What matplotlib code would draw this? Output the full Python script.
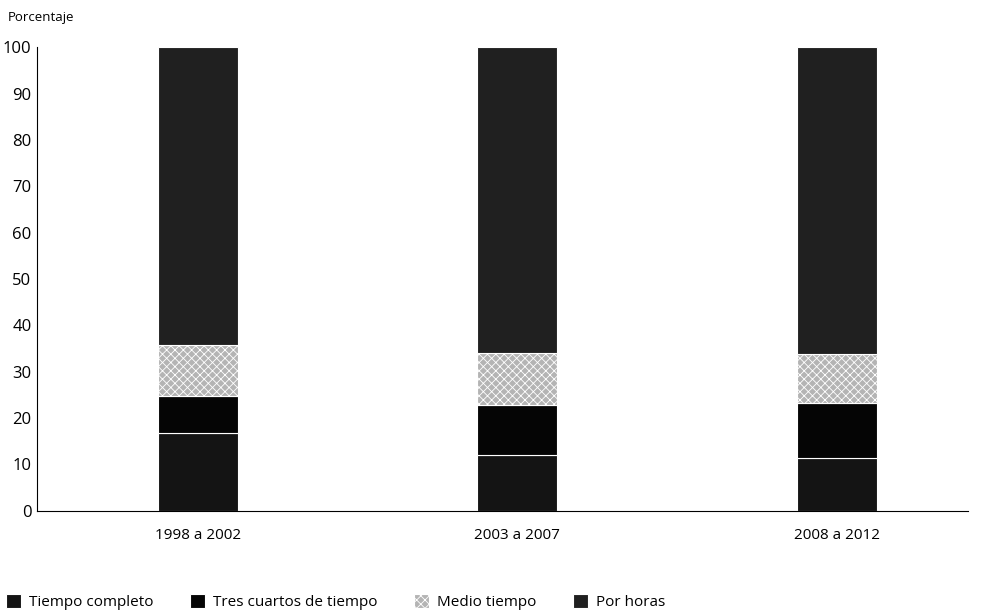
import numpy as np
import matplotlib.pyplot as plt

plt.rcParams['font.family'] = ['Open Sans', 'DejaVu Sans']

periodos = ['1998 a 2002', '2003 a 2007', '2008 a 2012']
tiempo_completo = [16.8, 12.1, 11.5]
tres_cuartos = [8.0, 10.7, 11.8]
medio_tiempo = [11.0, 11.3, 10.5]
por_horas = [64.2, 65.9, 66.2]

series = [
    ('Tiempo completo', tiempo_completo, '#141414', None),
    ('Tres cuartos de tiempo', tres_cuartos, '#050505', None),
    ('Medio tiempo', medio_tiempo, '#b4b4b4', 'xxxx'),
    ('Por horas', por_horas, '#202020', None),
]

fig = plt.figure(figsize=(9.83, 6.14), dpi=100)
ax = fig.add_axes([0.0376, 0.168, 0.947, 0.755])

x = np.arange(len(periodos))
bottom = np.zeros(len(periodos))
plt.rcParams['hatch.color'] = '#3a3a3a'
plt.rcParams['hatch.linewidth'] = 0.6
for label, vals, color, hatch in series:
    ax.bar(x, vals, width=0.25, bottom=bottom, color=color, hatch=hatch,
           edgecolor='white', linewidth=0.8, label=label)
    bottom += np.array(vals)

ax.set_xlim(-0.504, 2.41)
ax.set_ylim(0, 100)
ax.set_yticks(range(0, 101, 10))
ax.set_xticks(x)
ax.set_xticklabels(periodos, fontsize=11)
ax.tick_params(axis='y', length=0, labelsize=12, pad=4)
ax.tick_params(axis='x', length=0, pad=12)
ax.spines['top'].set_visible(False)
ax.spines['right'].set_visible(False)
ax.spines['left'].set_linewidth(0.8)
ax.spines['bottom'].set_linewidth(0.8)

fig.text(0.008, 0.972, 'Porcentaje', fontsize=9.5, va='center', ha='left')

fig.legend(loc='lower left', bbox_to_anchor=(-0.008, -0.016), ncol=4, frameon=False,
           handlelength=1.0, handleheight=1.0, handletextpad=0.5,
           columnspacing=2.4, fontsize=11)

plt.savefig('out.png', dpi=100)
plt.close()
